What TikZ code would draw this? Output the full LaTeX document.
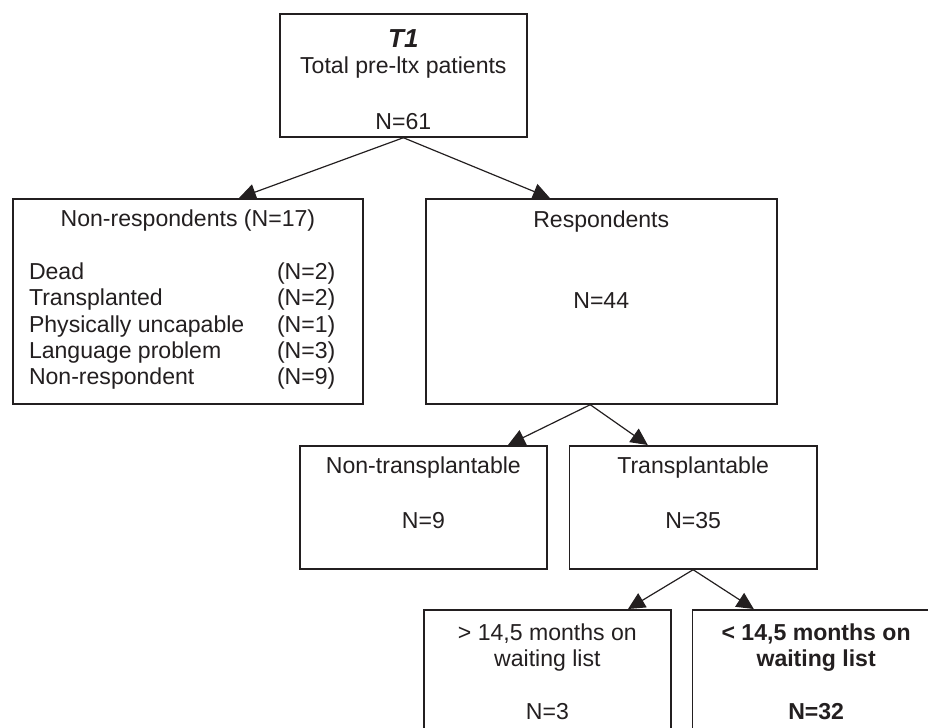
\documentclass[tikz,border=0pt]{standalone}
\usepackage{fontspec}
\setmainfont{Liberation Sans}
\usetikzlibrary{positioning,arrows.meta,calc}
\definecolor{ink}{RGB}{35,31,32}
\newcommand{\nrrow}[2]{\makebox[226pt][l]{\makebox[176.4pt][l]{#1}(N=#2)}}

\begin{document}
\begin{tikzpicture}[x=0.025cm, y=-0.025cm,
		box/.style={draw=ink, line width=1.2pt, fill=white, text=ink, align=center,
			inner xsep=0pt, inner ysep=0pt, minimum width=175.7pt,
			font=\fontsize{16.4pt}{18.8pt}\selectfont},
		arr/.style={-{Triangle[length=12pt, width=11.6pt]}, line width=0.85pt, ink}]
		\clip (0,0) rectangle (928,728);
		\node[box, anchor=north west, text height=81.9pt, text depth=5.6pt] (total) at (279,13)
			{{\fontsize{18.5pt}{18.8pt}\selectfont\bfseries\itshape T1}\\Total pre-ltx patients\\[20.5pt]N=61};
		\node[box, anchor=north west, minimum width=249pt, text height=132.3pt, text depth=13.5pt] (nonresp) at (12,198)
			{Non-respondents (N=17)\\[18.8pt]\nrrow{Dead}{2}\\\nrrow{Transplanted}{2}\\
			 \nrrow{Physically uncapable}{1}\\\nrrow{Language problem}{3}\\\nrrow{Non-respondent}{9}};
		\node[box, minimum width=249.7pt, text height=77.8pt, text depth=68pt, right=1.525cm of nonresp] (resp)
			{Respondents\\[38.6pt]N=44};
		\node[box, anchor=north west, text height=58.6pt, text depth=28.9pt] (nontrans) at (299,445)
			{Non-transplantable\\[20pt]N=9};
		\node[box, text height=58.6pt, text depth=28.9pt, right=0.525cm of nontrans] (trans)
			{Transplantable\\[20pt]N=35};
		\node[box, anchor=north west, text height=78.2pt, text depth=28.5pt] (longwait) at (423,609)
			{> 14,5 months on\\waiting list\\[18.8pt]N=3};
		\node[box, text height=78.2pt, text depth=28.5pt, right=0.5cm of longwait,
			font=\fontsize{16.4pt}{18.8pt}\selectfont\bfseries] (shortwait)
			{< 14,5 months on\\waiting list\\[18.8pt]N=32};
		\draw[arr] (total.south) -- ($(nonresp.north west)+(227,0)$);
		\draw[arr] (total.south) -- ($(resp.north west)+(125,0)$);
		\draw[arr] ($(resp.south)+(-11,0)$) -- ($(nontrans.north west)+(209,0)$);
		\draw[arr] ($(resp.south)+(-11,0)$) -- ($(trans.north west)+(79,0)$);
		\draw[arr] (trans.south) -- ($(longwait.north west)+(205,0)$);
		\draw[arr] (trans.south) -- ($(shortwait.north west)+(62,0)$);
\end{tikzpicture}
\end{document}
